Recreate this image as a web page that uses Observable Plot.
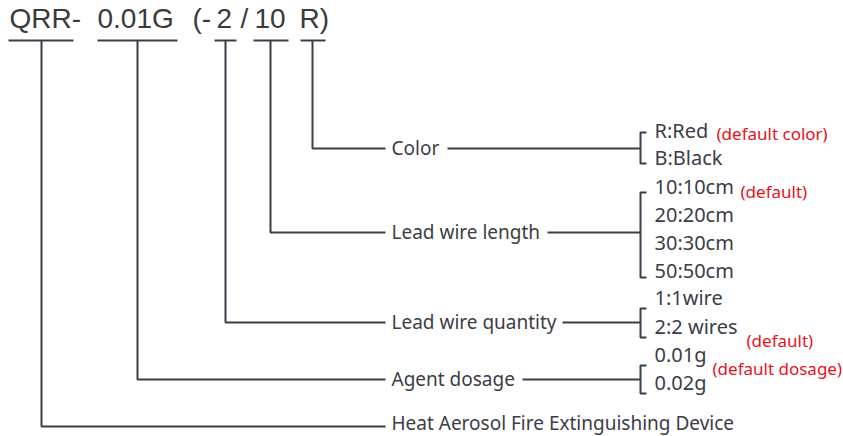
<!DOCTYPE html>
<html>
<head>
<meta charset="utf-8">
<script src="https://cdn.jsdelivr.net/npm/d3@7"></script>
<script src="https://cdn.jsdelivr.net/npm/@observablehq/plot@0.6"></script>
<style>
html,body{margin:0;padding:0;background:#fff;}
#chart svg{display:block;}
</style>
</head>
<body>
<div id="chart"></div>
<script>
// Model code parts (top row)
const codeParts = ["QRR-", "0.01G", "(-", "2", "/", "10", "R)"];
const codePartX = [9, 97, 192, 216, 240, 254, 299];
const codeY = 19;
// underline segments under each selectable part
const underlineStart = [8, 97, 214, 253, 300];
const underlineEnd = [73, 177, 236, 288, 325];
const underlineY = 40;
const dropX = [41, 137, 225, 270, 312];

// categories (index into underline segments)
const categories = ["Color", "Lead wire length", "Lead wire quantity", "Agent dosage", "Heat Aerosol Fire Extinguishing Device"];
const categorySource = [4, 3, 2, 1, 0];
const categoryY = [148, 232, 322, 379, 426];
const categoryTextY = [148, 232, 322, 379, 423];
const categoryLineEnd = 385;
const categoryTextX = 391;
const categoryTailStart = [447, 547, 562, 522, null];
const bracketX = 640;
const bracketTop = [132, 192, 308, 365, null];
const bracketBottom = [163, 277, 337, 393, null];

// options
const optionLabels = ["R:Red", "B:Black", "10:10cm", "20:20cm", "30:30cm", "50:50cm", "1:1wire", "2:2 wires", "0.01g", "0.02g"];
const optionY = [131, 158, 187, 215, 243, 271, 298, 327, 355, 383];
const optionX = 654;

// red notes
const notes = ["(default color)", "(default)", "(default)", "(default dosage)"];
const noteX = [716, 740, 746, 712];
const noteY = [134, 192, 341, 369];

const ink = "#3b3d47";

// build line paths
const paths = [];
underlineStart.forEach((s, i) => {
  paths.push({k: "u" + i, x: s, y: underlineY});
  paths.push({k: "u" + i, x: underlineEnd[i], y: underlineY});
});
categories.forEach((c, i) => {
  const src = categorySource[i];
  paths.push({k: "c" + i, x: dropX[src], y: underlineY});
  paths.push({k: "c" + i, x: dropX[src], y: categoryY[i]});
  paths.push({k: "c" + i, x: categoryLineEnd, y: categoryY[i]});
  if (categoryTailStart[i] != null) {
    paths.push({k: "t" + i, x: categoryTailStart[i], y: categoryY[i]});
    paths.push({k: "t" + i, x: bracketX, y: categoryY[i]});
    paths.push({k: "b" + i, x: bracketX + 6, y: bracketTop[i]});
    paths.push({k: "b" + i, x: bracketX, y: bracketTop[i]});
    paths.push({k: "b" + i, x: bracketX, y: bracketBottom[i]});
    paths.push({k: "b" + i, x: bracketX + 6, y: bracketBottom[i]});
  }
});

const codeData = codeParts.map((t, i) => ({t, x: codePartX[i], y: codeY}));
const catData = categories.map((t, i) => ({t, x: categoryTextX, y: categoryTextY[i]}));
const optData = optionLabels.map((t, i) => ({t, x: optionX, y: optionY[i]}));
const noteData = notes.map((t, i) => ({t, x: noteX[i], y: noteY[i]}));

const chart = Plot.plot({
  width: 843,
  height: 436,
  margin: 0,
  x: {domain: [0, 843], range: [0, 843], axis: null},
  y: {domain: [0, 436], range: [0, 436], axis: null},
  style: {background: "#fff"},
  marks: [
    Plot.line(paths, {x: "x", y: "y", z: "k", stroke: ink, strokeWidth: 2, strokeLinejoin: "miter", strokeLinecap: "butt", curve: "linear"}),
    Plot.text(codeData, {x: "x", y: "y", text: "t", textAnchor: "start", fontSize: 28, fontFamily: "Liberation Sans, Arial, sans-serif", fill: "#3a3a3a"}),
    Plot.text(catData, {x: "x", y: "y", text: "t", textAnchor: "start", fontSize: 19, fontFamily: "Noto Sans, sans-serif", fill: ink}),
    Plot.text(optData, {x: "x", y: "y", text: "t", textAnchor: "start", fontSize: 20, fontFamily: "Noto Sans, sans-serif", fill: ink}),
    Plot.text(noteData, {x: "x", y: "y", text: "t", textAnchor: "start", fontSize: 17, fontFamily: "Noto Sans, sans-serif", fill: "#e8101c"})
  ]
});
document.getElementById("chart").appendChild(chart);
</script>
</body>
</html>
